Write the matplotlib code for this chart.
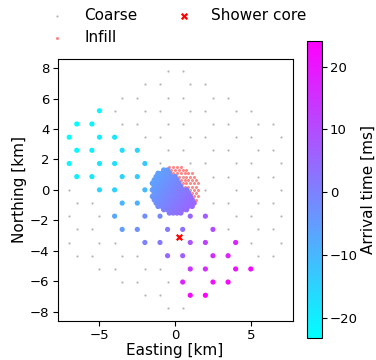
import numpy as np
import matplotlib
matplotlib.use("Agg")
import matplotlib.pyplot as plt
from matplotlib.colors import Normalize

# ---------------- layout of the arrays (km) ----------------
coarse_spacing = 1.0        # honeycomb edge of the coarse array
coarse_radius = 8.5         # hexagonal footprint of the coarse array
coarse_halfwidth = 7.36
infill_spacing = 0.25       # triangular infill lattice
infill_radius = 1.6

# ---------------- triggered coarse stations ----------------
trig_x = [-5,
          -6.5, -5.5,
          -7, -5, -4,
          -6.5, -5.5, -3.5, -2.5,
          -7, -5, -4, -2,
          -6.5, -5.5, -3.5, -2.5,
          -5, -4, -2,
          -3.5, -2.5,
          -4, -2, -1, 1, 2,
          -3.5, -2.5, -0.5, 0.5, 2.5,
          -2, -1, 1, 2, 4,
          -0.5, 0.5, 2.5, 3.5,
          1, 2, 4, 5,
          0.5, 2.5, 3.5,
          1, 2]
trig_y = [5.20,
          4.33, 4.33,
          3.46, 3.46, 3.46,
          2.60, 2.60, 2.60, 2.60,
          1.73, 1.73, 1.73, 1.73,
          0.87, 0.87, 0.87, 0.87,
          0.0, 0.0, 0.0,
          -0.87, -0.87,
          -1.73, -1.73, -1.73, -1.73, -1.73,
          -2.60, -2.60, -2.60, -2.60, -2.60,
          -3.46, -3.46, -3.46, -3.46, -3.46,
          -4.33, -4.33, -4.33, -4.33,
          -5.20, -5.20, -5.20, -5.20,
          -6.06, -6.06, -6.06,
          -6.93, -6.93]
trig_t = [-22,
          -23, -21,
          -23.3, -20, -19,
          -22, -20.5, -17, -15.5,
          -21.5, -19, -17.5, -13,
          -20, -19, -15, -13.5,
          -16, -15, -10.5,
          -9.5, -8.5,
          -7, -2.5, -1.5, 5, 7,
          -5, -3, 1, 3, 10,
          0, 1.5, 8, 12, 17.5,
          5, 6.5, 15.5, 17.5,
          14, 15.5, 21, 22,
          17.5, 21, 22.5,
          22, 24.1]

infill_edge_point = (-0.6, 1.6)
infill_edge_slope = -1.18
infill_t0 = -0.3            # ms at the infill centre
infill_dtdx = 3.0           # ms per km east
infill_dtdy = -2.0          # ms per km north

core_x = [0.26]
core_y = [-3.09]

# ---------------- build station layouts ----------------
h = np.sqrt(3) / 2
cx, cy = [], []
for k in range(-10, 11):
    y = k * h * coarse_spacing
    offs = 0.0 if k % 2 == 0 else 0.5
    for j in range(-10, 11):
        x = (j + offs) * coarse_spacing
        q = (x - 1.5 * k) / 3.0
        if abs(q - round(q)) < 1e-6:
            continue  # honeycomb vacancy
        if abs(x) <= coarse_halfwidth and abs(y) <= coarse_radius - abs(x) / np.sqrt(3):
            cx.append(x)
            cy.append(y)

ix, iy = [], []
nrow = int(infill_radius / (infill_spacing * h)) + 1
for k in range(-nrow, nrow + 1):
    y = k * infill_spacing * h
    offs = 0.0 if k % 2 == 0 else 0.5
    for j in range(-10, 11):
        x = (j + offs) * infill_spacing
        if x * x + y * y <= infill_radius ** 2 + 1e-9:
            ix.append(x)
            iy.append(y)
ix = np.array(ix)
iy = np.array(iy)
edge_y = infill_edge_point[1] + infill_edge_slope * (ix - infill_edge_point[0])
trig_in = iy < edge_y
it_x = ix[trig_in]
it_y = iy[trig_in]
it_t = infill_t0 + infill_dtdx * it_x + infill_dtdy * it_y

all_t = np.concatenate([trig_t, it_t])
norm = Normalize(vmin=all_t.min(), vmax=all_t.max())
cmap = plt.get_cmap("cool")

# ---------------- figure ----------------
fig = plt.figure(figsize=(3.76, 3.60), dpi=100)
ax = fig.add_axes([0.1535, 0.1092, 0.6245, 0.7269])
cax = fig.add_axes([0.8157, 0.0603, 0.0399, 0.8258])

h_inf = ax.scatter(ix[~trig_in], iy[~trig_in], s=5, color=(1.0, 0.42, 0.42),
                   alpha=0.8, linewidths=0, zorder=2, label="Infill")
h_coarse = ax.scatter(cx, cy, s=2.5, color="#b5b5b5", linewidths=0, zorder=3,
                      label="Coarse")
ax.scatter(it_x, it_y, c=it_t, cmap=cmap, norm=norm, s=16, linewidths=0, zorder=4)
sc = ax.scatter(trig_x, trig_y, c=trig_t, cmap=cmap, norm=norm, s=14,
                linewidths=0, zorder=5)
h_core = ax.scatter(core_x, core_y, marker="x", color="red", s=16,
                    linewidths=1.6, zorder=6, label="Shower core")

ax.set_xlim(-7.76, 7.76)
ax.set_ylim(-8.6, 8.6)
ax.set_xticks([-5, 0, 5])
ax.set_yticks([-8, -6, -4, -2, 0, 2, 4, 6, 8])
ax.tick_params(labelsize=9.5, length=3.5, pad=2.5)
ax.set_xlabel("Easting [km]", fontsize=11, labelpad=1)
ax.set_ylabel("Northing [km]", fontsize=11, labelpad=2)

cb = fig.colorbar(sc, cax=cax)
cb.set_ticks([-20, -10, 0, 10, 20])
cb.ax.tick_params(labelsize=9.5, length=3.5, pad=2.5)
cb.set_label("Arrival time [ms]", fontsize=11, labelpad=2)

fig.legend(handles=[h_coarse, h_inf, h_core], ncol=2, frameon=False,
           loc="lower left", bbox_to_anchor=(0.095, 0.857), fontsize=11,
           borderaxespad=0)

fig.savefig("out.png", dpi=100)
